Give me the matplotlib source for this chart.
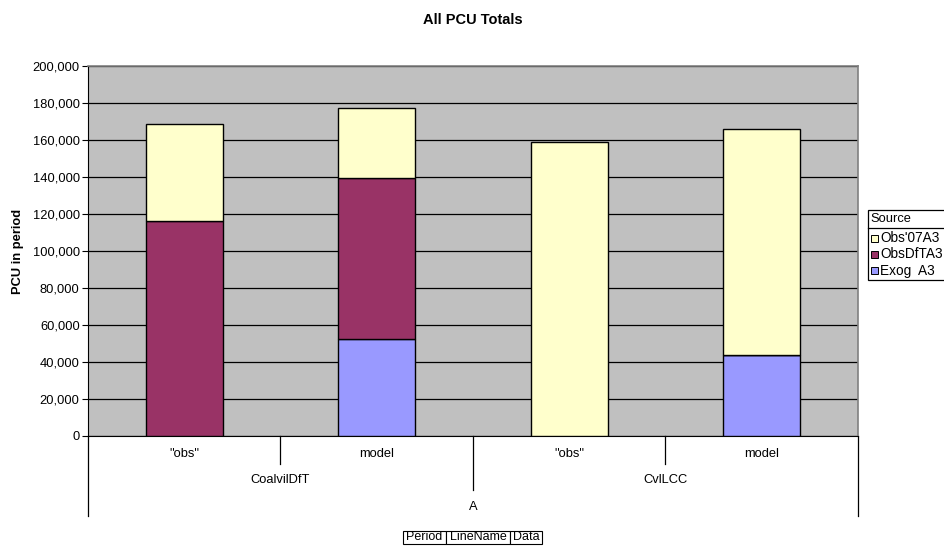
import matplotlib
matplotlib.use("Agg")
import matplotlib.pyplot as plt
from matplotlib.patches import Rectangle
from matplotlib.lines import Line2D
import numpy as np

plt.rcParams['font.family'] = ['Liberation Sans', 'DejaVu Sans']

# ---- data ----
periods = ["A"]
line_names = ["CoalvilDfT", "CvlLCC"]
data_labels = ['"obs"', 'model', '"obs"', 'model']
series_names = ["Exog  A3", "ObsDfTA3", "Obs'07A3"]
exog = [0, 52400, 0, 43600]
obsdft = [116000, 86900, 0, 0]
obs07 = [52500, 37800, 158700, 122300]
yticks = [0, 20000, 40000, 60000, 80000, 100000, 120000, 140000, 160000, 180000, 200000]

colors = {"Exog  A3": "#9999FF", "ObsDfTA3": "#993366", "Obs'07A3": "#FFFFCC"}

W, H = 945, 550
fig = plt.figure(figsize=(W / 100, H / 100), dpi=100)

def fx(px):
    return px / W

def fy(py):
    return 1 - py / H

ax = fig.add_axes([fx(88), fy(436), fx(858) - fx(88), fy(66) - fy(436)])
ax.set_facecolor("#C0C0C0")

x = np.arange(len(data_labels))
bottom = np.zeros(len(x))
for name, vals in zip(series_names, [exog, obsdft, obs07]):
    vals = np.array(vals, dtype=float)
    ax.bar(x, vals, width=0.4, bottom=bottom, color=colors[name],
           edgecolor="black", linewidth=1.0, zorder=3)
    bottom += vals

ax.set_xlim(-0.5, len(x) - 0.5)
ax.set_ylim(0, 200000)
ax.set_yticks(yticks)
ax.set_yticklabels([f"{v:,}" for v in yticks], fontsize=9.3)
ax.yaxis.grid(True, color="black", linewidth=0.9, zorder=0)
ax.set_axisbelow(True)
ax.tick_params(axis="y", length=4, width=0.8, color="black", pad=2)
ax.set_xticks([])
for s in ["top", "right"]:
    ax.spines[s].set_color("#808080")
    ax.spines[s].set_linewidth(1.2)
ax.spines["left"].set_color("black")
ax.spines["bottom"].set_color("black")

ax.set_ylabel("PCU in period", fontsize=9.3, fontweight="bold", labelpad=6)
fig.text(0.5, fy(20), "All PCU Totals", ha="center", va="center",
         fontsize=10.5, fontweight="bold")

# ---- multi-level category axis ----
trans = ax.get_xaxis_transform()
axh = 436 - 66
def ay(py):
    return (436 - py) / axh

for i, lab in enumerate(data_labels):
    ax.text(i, ay(454), lab, transform=trans, ha="center", va="center", fontsize=9.3)
for j, ln in enumerate(line_names):
    ax.text(2 * j + 0.5, ay(480), ln, transform=trans, ha="center", va="center", fontsize=9.3)
ax.text(1.5, ay(507), periods[0], transform=trans, ha="center", va="center", fontsize=9.3)

def vline(xv, y_end_px):
    ax.add_line(Line2D([xv, xv], [0, ay(y_end_px)], transform=trans,
                       color="black", linewidth=0.9, clip_on=False))

vline(-0.5, 516)
vline(len(x) - 0.5, 516)
vline(0.5, 464)
vline(2.5, 464)
vline(1.5, 490)

# ---- legend (manual, Excel style) ----
lx0, lx1, ly0, ly1 = 868, 960, 210, 280
fig.patches.append(Rectangle((fx(lx0), fy(ly1)), fx(lx1) - fx(lx0), fy(ly0) - fy(ly1),
                             transform=fig.transFigure, facecolor="white",
                             edgecolor="black", linewidth=0.9))
fig.lines.append(Line2D([fx(lx0), fx(lx1)], [fy(228), fy(228)],
                        transform=fig.transFigure, color="black", linewidth=0.9))
fig.text(fx(870), fy(219), "Source", ha="left", va="center", fontsize=9.3)
leg_items = list(reversed(series_names))
for k, name in enumerate(leg_items):
    yc = 238 + k * 16.5
    fig.patches.append(Rectangle((fx(871), fy(yc + 3.5)), fx(7), 7 / H,
                                 transform=fig.transFigure, facecolor=colors[name],
                                 edgecolor="black", linewidth=0.7))
    fig.text(fx(880), fy(yc), name, ha="left", va="center", fontsize=9.8)

# ---- field buttons ----
cells = [("Period", 403, 446), ("LineName", 446, 510), ("Data", 510, 542)]
for lab, a, b in cells:
    fig.patches.append(Rectangle((fx(a), fy(544)), fx(b) - fx(a), fy(531) - fy(544),
                                 transform=fig.transFigure, facecolor="white",
                                 edgecolor="black", linewidth=0.8))
    fig.text(fx((a + b) / 2), fy(537.5), lab, ha="center", va="center", fontsize=9)

fig.savefig("out.png", dpi=100)
